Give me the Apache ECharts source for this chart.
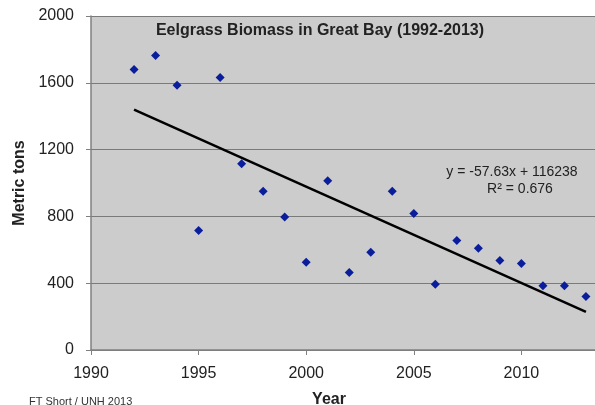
<!DOCTYPE html>
<html>
<head>
<meta charset="utf-8">
<script src="https://cdn.jsdelivr.net/npm/echarts@6/dist/echarts.min.js"></script>
<style>
  html, body { margin: 0; padding: 0; background: #fff; }
  #chart { width: 595px; height: 405px; }
</style>
</head>
<body>
<div id="chart"></div>
<script>
// biomass readings, one per year
var years = [1992, 1993, 1994, 1995, 1996, 1997, 1998, 1999, 2000, 2001, 2002,
             2003, 2004, 2005, 2006, 2007, 2008, 2009, 2010, 2011, 2012, 2013];
var biomass = [1680, 1764, 1586, 716, 1632, 1116, 950, 796, 526, 1014, 464,
               586, 950, 818, 394, 656, 610, 536, 518, 384, 384, 320];

// linear fit as printed on the chart
var trendSlope = -57.63;
var trendIntercept = 116238;
var trendYears = [1992, 2013];

var xTicks = [1990, 1995, 2000, 2005, 2010, 2015];
var yTicks = [0, 400, 800, 1200, 1600, 2000];

var points = years.map(function (y, i) { return [y, biomass[i]]; });
var trendPoints = trendYears.map(function (y) { return [y, trendSlope * y + trendIntercept]; });

var chart = echarts.init(document.getElementById("chart"));

var option = {
    animation: false,
    backgroundColor: "#ffffff",
    grid: {
        left: 91,
        top: 16,
        bottom: 55,
        right: -34,
        outerBoundsMode: "none",
        containLabel: false,
        show: true,
        backgroundColor: "#cccccc",
        borderWidth: 0
    },
    title: [
        {
            text: "Eelgrass Biomass in Great Bay (1992-2013)",
            left: 315,
            top: 18,
            textAlign: "center",
            textStyle: { fontFamily: "Liberation Sans", fontSize: 16, fontWeight: "bold", color: "#222" }
        },
        {
            text: "y = -57.63x + 116238",
            left: 507,
            top: 160,
            textAlign: "center",
            textStyle: { fontFamily: "Liberation Sans", fontSize: 14, fontWeight: "normal", color: "#222" }
        },
        {
            text: "R² = 0.676",
            left: 515,
            top: 177,
            textAlign: "center",
            textStyle: { fontFamily: "Liberation Sans", fontSize: 14, fontWeight: "normal", color: "#222" }
        },
        {
            text: "FT Short / UNH 2013",
            left: 24,
            top: 391,
            textStyle: { fontFamily: "Liberation Sans", fontSize: 11, fontWeight: "normal", color: "#333" }
        }
    ],
    xAxis: {
        type: "value",
        min: xTicks[0],
        max: xTicks[xTicks.length - 1],
        interval: 5,
        name: "Year",
        nameLocation: "middle",
        nameGap: 42,
        nameTextStyle: {
            fontFamily: "Liberation Sans", fontSize: 16, fontWeight: "bold", color: "#222",
            padding: [0, 62, 0, 0]
        },
        axisLine: { onZero: false, lineStyle: { color: "#808080", width: 1.5 } },
        axisTick: { show: true, length: 5, lineStyle: { color: "#808080" } },
        axisLabel: {
            fontFamily: "Liberation Sans", fontSize: 16, color: "#222", margin: 16,
            formatter: function (v) { return String(v); }
        },
        splitLine: { show: false }
    },
    yAxis: {
        type: "value",
        min: yTicks[0],
        max: yTicks[yTicks.length - 1],
        interval: 400,
        name: "Metric tons",
        nameLocation: "middle",
        nameGap: 58,
        nameTextStyle: { fontFamily: "Liberation Sans", fontSize: 16, fontWeight: "bold", color: "#222" },
        axisLine: { show: true, lineStyle: { color: "#808080", width: 1.5 } },
        axisTick: { show: true, length: 5, lineStyle: { color: "#808080" } },
        axisLabel: {
            fontFamily: "Liberation Sans", fontSize: 16, color: "#222", margin: 17,
            formatter: function (v) { return String(v); }
        },
        splitLine: { show: true, lineStyle: { color: "#7a7a7a", width: 1.2 } }
    },
    series: [
        {
            type: "line",
            data: trendPoints,
            symbol: "none",
            lineStyle: { color: "#000000", width: 2.5 },
            z: 2
        },
        {
            type: "scatter",
            data: points,
            symbol: "diamond",
            symbolSize: 9,
            itemStyle: { color: "#0a1e9c", opacity: 1 },
            z: 3
        }
    ]
};

chart.setOption(option);
</script>
</body>
</html>
